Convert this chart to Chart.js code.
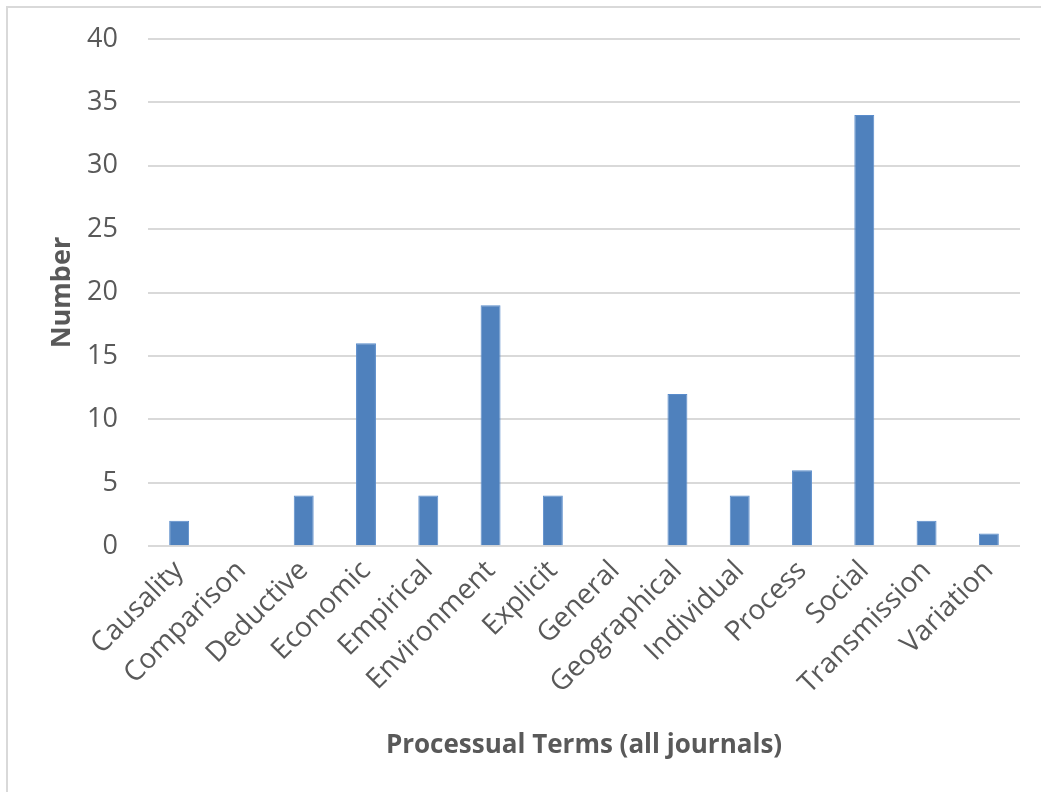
<!DOCTYPE html>
<html>
<head>
<meta charset="utf-8">
<script src="https://cdn.jsdelivr.net/npm/chart.js@4/dist/chart.umd.min.js"></script>
<style>
  html, body { margin: 0; padding: 0; background: #fff; }
  #wrap { position: relative; width: 1041px; height: 792px; overflow: hidden; }
  #frame { position: absolute; left: 6px; top: 6px; width: 1100px; height: 900px;
           border-left: 2px solid #d9d9d9; border-top: 2px solid #d9d9d9; box-sizing: border-box; }
  canvas { position: absolute; left: 0; top: 0; }
</style>
</head>
<body>
<div id="wrap">
  <div id="frame"></div>
  <canvas id="chart" width="1041" height="792"></canvas>
</div>
<script>
// Processual terms counted across all journals
const categories = ['Causality', 'Comparison', 'Deductive', 'Economic', 'Empirical', 'Environment',
  'Explicit', 'General', 'Geographical', 'Individual', 'Process', 'Social', 'Transmission', 'Variation'];
const counts = [2, 0, 4, 16, 4, 19, 4, 0, 12, 4, 6, 34, 2, 1];
const yTicks = [0, 5, 10, 15, 20, 25, 30, 35, 40];

const textColor = '#595959';
const fontFamily = '"Open Sans", "Liberation Sans", sans-serif';

new Chart(document.getElementById('chart'), {
  type: 'bar',
  data: {
    labels: categories,
    datasets: [{
      data: counts,
      backgroundColor: '#4f81bd',
      borderColor: '#5a8ccb',
      borderWidth: 1,
      categoryPercentage: 1,
      barPercentage: 0.32
    }]
  },
  options: {
    responsive: false,
    animation: false,
    layout: { padding: { left: 46, right: 21, top: 39, bottom: 31 } },
    plugins: { legend: { display: false }, tooltip: { enabled: false } },
    scales: {
      x: {
        grid: { display: false },
        border: { display: false },
        ticks: {
          color: textColor,
          font: { family: fontFamily, size: 28 },
          minRotation: 45,
          maxRotation: 45,
          padding: 0,
          autoSkip: false
        },
        title: {
          display: true,
          text: 'Processual Terms (all journals)',
          color: textColor,
          font: { family: fontFamily, size: 26, weight: 'bold' },
          padding: { top: 29, bottom: 0 }
        }
      },
      y: {
        min: 0,
        max: 40,
        afterBuildTicks: (axis) => { axis.ticks = yTicks.map(v => ({ value: v })); },
        // fixed axis band: title at the left edge, labels 30px off the plot
        afterFit: (axis) => {
          axis.width = 102;
          axis.paddingTop = 0;
          axis.paddingBottom = 0;
        },
        grid: { color: '#d9d9d9', lineWidth: 2, drawTicks: false },
        border: { display: false },
        ticks: {
          color: textColor,
          font: { family: fontFamily, size: 27 },
          padding: 30
        },
        title: {
          display: true,
          text: 'Number',
          color: textColor,
          font: { family: fontFamily, size: 27, weight: 'bold' },
          padding: 0
        }
      }
    }
  }
});
</script>
</body>
</html>
